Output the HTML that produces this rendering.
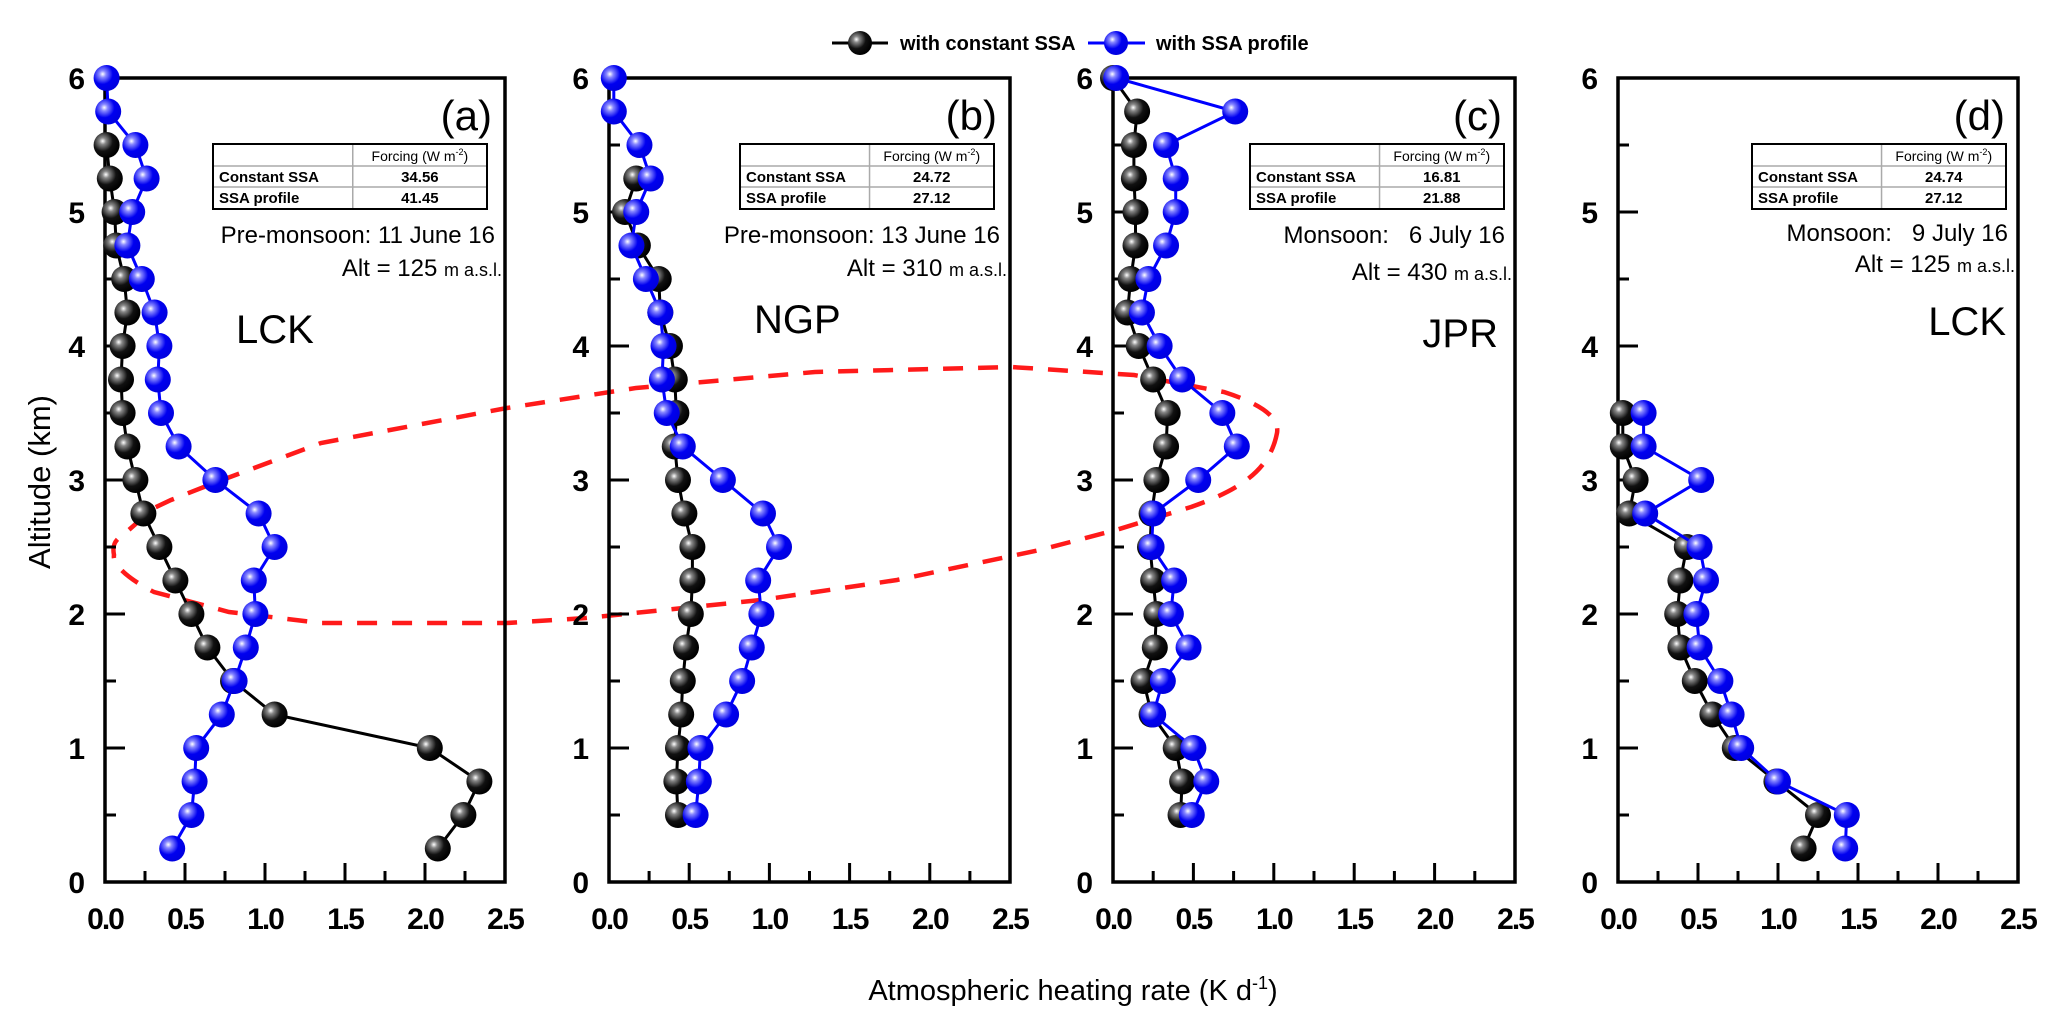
<!DOCTYPE html>
<html><head><meta charset="utf-8">
<style>
html,body{margin:0;padding:0;background:#fff;}
svg{display:block;font-family:"Liberation Sans",Arial,sans-serif;}
</style></head>
<body>
<svg id="fig" width="2068" height="1027" viewBox="0 0 2068 1027" xmlns="http://www.w3.org/2000/svg">
<defs>
<radialGradient id="gBlack" cx="0.35" cy="0.35" r="0.65">
<stop offset="0" stop-color="#ffffff"/><stop offset="0.2" stop-color="#888"/><stop offset="0.6" stop-color="#111"/><stop offset="1" stop-color="#000"/>
</radialGradient>
<radialGradient id="gBlue" cx="0.35" cy="0.35" r="0.65">
<stop offset="0" stop-color="#ffffff"/><stop offset="0.2" stop-color="#8888ff"/><stop offset="0.6" stop-color="#0000f0"/><stop offset="1" stop-color="#0000e0"/>
</radialGradient>
</defs>
<g id="legend">
<g>
<line x1="832" y1="43" x2="888" y2="43" stroke="#000" stroke-width="3"/>
<circle cx="860" cy="43" r="12" fill="url(#gBlack)"/>
<text x="900" y="50" font-size="20" font-weight="bold">with constant SSA</text>
</g>
<g>
<line x1="1088" y1="43" x2="1145" y2="43" stroke="#0000ff" stroke-width="3"/>
<circle cx="1116" cy="43" r="12" fill="url(#gBlue)"/>
<text x="1156" y="50" font-size="20" font-weight="bold">with SSA profile</text>
</g>
</g>
<text transform="translate(50,482) rotate(-90)" text-anchor="middle" font-size="31">Altitude (km)</text>
<text x="1073" y="1000" text-anchor="middle" font-size="29">Atmospheric heating rate (K d<tspan font-size="18" dy="-11">-1</tspan><tspan dy="11">)</tspan></text>
<path fill="none" stroke="#ff1a1a" stroke-width="4.5" stroke-dasharray="20 15"
d="M 1277 433 C 1270 470 1240 490 1191 507 L 1116 530 L 1040 550 L 897 580 L 761 600 L 586 618 L 507 623 L 321 623 L 229 612 L 154 592 C 130 580 112 565 114 555 C 112 545 115 540 123 535 L 154 508 L 171 500 L 214 483 L 321 443 L 507 408 L 636 388 L 815 372 L 1011 367 L 1134 375 L 1224 392 C 1255 402 1280 415 1277 433 Z"/>
</svg>
<script>
const altitudes = [6.0,5.75,5.5,5.25,5.0,4.75,4.5,4.25,4.0,3.75,3.5,3.25,3.0,2.75,2.5,2.25,2.0,1.75,1.5,1.25,1.0,0.75,0.5,0.25];
const xTickLabels = ["0.0","0.5","1.0","1.5","2.0","2.5"];
const yTickLabels = ["0","1","2","3","4","5","6"];
const panelLetters = ["(a)","(b)","(c)","(d)"];
const siteNames = ["LCK","NGP","JPR","LCK"];
const seasonLabels = ["Pre-monsoon: 11 June 16","Pre-monsoon: 13 June 16","Monsoon:   6 July 16","Monsoon:   9 July 16"];
const siteAlts = ["125","310","430","125"];
const forcingConstant = ["34.56","24.72","16.81","24.74"];
const forcingProfile = ["41.45","27.12","21.88","27.12"];
// null = no point at that altitude
const constA = [null,null,0.01,0.03,0.06,0.07,0.12,0.14,0.11,0.10,0.11,0.14,0.19,0.24,0.34,0.44,0.54,0.64,0.80,1.06,2.03,2.34,2.24,2.08];
const profA  = [0.01,0.02,0.19,0.26,0.17,0.14,0.23,0.31,0.34,0.33,0.35,0.46,0.69,0.96,1.06,0.93,0.94,0.88,0.81,0.73,0.57,0.56,0.54,0.42];
const constB = [null,null,null,0.17,0.10,0.18,0.31,0.32,0.38,0.41,0.42,0.41,0.43,0.47,0.52,0.52,0.51,0.48,0.46,0.45,0.43,0.42,0.43,null];
const profB  = [0.03,0.03,0.19,0.26,0.17,0.14,0.23,0.32,0.34,0.33,0.36,0.46,0.71,0.96,1.06,0.93,0.95,0.89,0.83,0.73,0.57,0.56,0.54,null];
const constC = [0.00,0.15,0.13,0.13,0.14,0.14,0.11,0.09,0.16,0.25,0.34,0.33,0.27,0.24,0.23,0.25,0.27,0.26,0.19,0.24,0.39,0.43,0.42,null];
const profC  = [0.02,0.76,0.33,0.39,0.39,0.33,0.22,0.18,0.29,0.43,0.68,0.77,0.53,0.25,0.24,0.38,0.36,0.47,0.31,0.25,0.50,0.58,0.49,null];
const constD = [null,null,null,null,null,null,null,null,null,null,0.03,0.03,0.11,0.07,0.43,0.39,0.37,0.39,0.48,0.59,0.73,0.99,1.25,1.16];
const profD  = [null,null,null,null,null,null,null,null,null,null,0.16,0.16,0.52,0.17,0.51,0.55,0.49,0.51,0.64,0.71,0.77,1.00,1.43,1.42];

const constSeries=[constA,constB,constC,constD];
const profSeries=[profA,profB,profC,profD];
const panelLeft=[105,609,1113,1618], panelW=[400,401,402,400];
const TOP=78, BOTTOM=882;
const tableX=[213,740,1250,1752], tableW=[274,254,254,254];
const NS="http://www.w3.org/2000/svg";
const svg=document.getElementById('fig');
function mk(tag,attrs,parent){const e=document.createElementNS(NS,tag);for(const k in attrs)e.setAttribute(k,attrs[k]);(parent||svg).appendChild(e);return e;}

for(let p=0;p<4;p++){
  const L=panelLeft[p], W=panelW[p];
  const xs=v=>L+v/2.5*W;
  const ys=v=>BOTTOM-v/6*(BOTTOM-TOP);
  const g=mk('g',{});
  
  
  const fr=mk('rect',{x:L,y:TOP,width:W,height:BOTTOM-TOP,fill:'none',stroke:'#000','stroke-width':3.5},g);
  
  
  for(let i=0;i<=10;i++){
    const x=xs(i*0.25), len=(i%2==0)?19:11;
    if(i>0&&i<10){const t=mk('line',{x1:x,y1:BOTTOM,x2:x,y2:BOTTOM-len,stroke:'#000','stroke-width':3},g);
    
    }
  }
  xTickLabels.forEach((lab,i)=>{const t=mk('text',{x:xs(i*0.5),y:929,'text-anchor':'middle','font-size':30,'font-weight':'bold','letter-spacing':'-2'},g);t.textContent=lab;
    
    });
  for(let i=1;i<12;i++){
    const y=ys(i*0.5), len=(i%2==0)?20:11;
    const t=mk('line',{x1:L,y1:y,x2:L+len,y2:y,stroke:'#000','stroke-width':3},g);
    
    
  }
  yTickLabels.forEach((lab,i)=>{const t=mk('text',{x:L-20,y:ys(i)+11,'text-anchor':'end','font-size':30,'font-weight':'bold'},g);t.textContent=lab;
    
    });
  [[constSeries[p],'#000','url(#gBlack)','constant-ssa'],[profSeries[p],'#0000ff','url(#gBlue)','ssa-profile']].forEach(([arr,col,fill,nm])=>{
    const pts=[];arr.forEach((v,i)=>{if(v!==null)pts.push([xs(v),ys(altitudes[i])]);});
    const pl=mk('polyline',{points:pts.map(q=>q.join(',')).join(' '),fill:'none',stroke:col,'stroke-width':3},g);
    
    
    pts.forEach(q=>{const c=mk('circle',{cx:q[0],cy:q[1],r:13,fill:fill},g);
      
      });
  });
  const R=L+W;
  const pl=mk('text',{x:R-13,y:130,'text-anchor':'end','font-size':42},g);pl.textContent=panelLetters[p];
  
  
  const tx=tableX[p], tw=tableW[p], ty=144, th=65, split=tx+tw*0.51;
  const tg=mk('g',{},g);
  
  
  mk('line',{x1:split,y1:ty,x2:split,y2:ty+th,stroke:'#aaa','stroke-width':1.5},tg);
  mk('line',{x1:tx,y1:ty+22,x2:tx+tw,y2:ty+22,stroke:'#aaa','stroke-width':1.5},tg);
  mk('line',{x1:tx,y1:ty+43,x2:tx+tw,y2:ty+43,stroke:'#aaa','stroke-width':1.5},tg);
  mk('rect',{x:tx,y:ty,width:tw,height:th,fill:'none',stroke:'#000','stroke-width':2},tg);
  const hc=(split+tx+tw)/2;
  const h=mk('text',{x:hc,y:ty+17,'text-anchor':'middle','font-size':14},tg);
  h.innerHTML='Forcing (W m<tspan font-size="9" dy="-6">-2</tspan><tspan dy="6">)</tspan>';
  const r1=mk('text',{x:tx+6,y:ty+38,'font-size':15,'font-weight':'bold'},tg);r1.textContent='Constant SSA';
  const r2=mk('text',{x:tx+6,y:ty+59,'font-size':15,'font-weight':'bold'},tg);r2.textContent='SSA profile';
  const v1=mk('text',{x:hc,y:ty+38,'text-anchor':'middle','font-size':15,'font-weight':'bold'},tg);v1.textContent=forcingConstant[p];
  const v2=mk('text',{x:hc,y:ty+59,'text-anchor':'middle','font-size':15,'font-weight':'bold'},tg);v2.textContent=forcingProfile[p];
  const s=mk('text',{x:R-10,y:[243,243,243,241][p],'text-anchor':'end','font-size':24},g);
  s.setAttribute('style','white-space:pre');
  s.textContent=seasonLabels[p];
  
  
  const a=mk('text',{x:R-3,y:[276,276,280,272][p],'text-anchor':'end','font-size':24},g);
  a.innerHTML='Alt = '+siteAlts[p]+' <tspan font-size="18">m a.s.l.</tspan>';
  
  
  const sx=[236,754,null,null][p];
  const sn=mk('text',sx?{x:sx,y:[343,333,0,0][p],'font-size':40}:{x:R-[17,0,17,12][p],y:[0,0,347,335][p],'text-anchor':'end','font-size':40},g);
  sn.textContent=siteNames[p];
  
  
}
</script>
</body></html>
